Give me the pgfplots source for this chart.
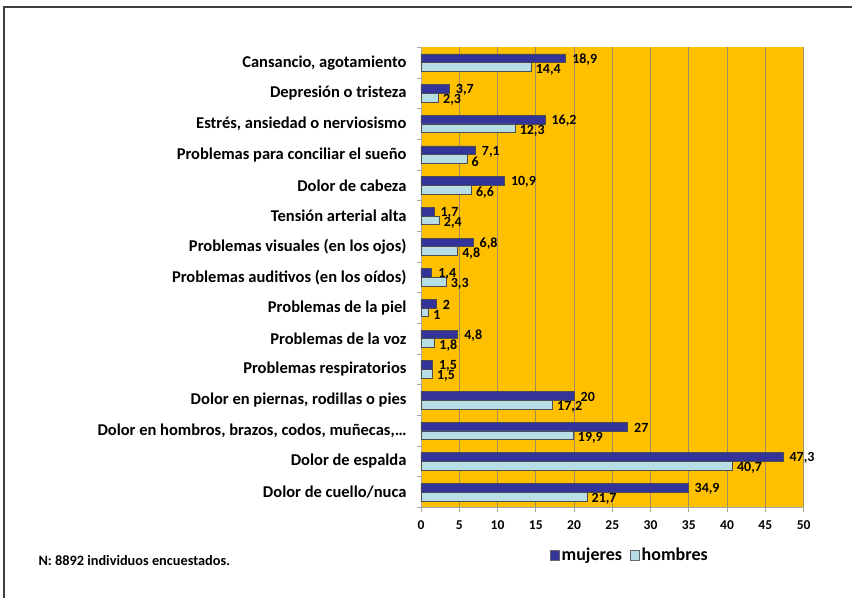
\documentclass[border=0pt]{standalone}
\usepackage{pgfplots}
\pgfplotsset{compat=1.18}
\usepackage{fontspec}
\setmainfont{Carlito}
\definecolor{plotorange}{RGB}{255,192,0}
\definecolor{darkbar}{RGB}{51,51,153}
\definecolor{lightbar}{RGB}{183,222,228}
\definecolor{gridgray}{RGB}{160,140,90}
\begin{document}
\begin{tikzpicture}
\useasboundingbox (0pt,0pt) rectangle (852pt,598pt);
\draw[black!75, line width=1.2pt] (4pt,0pt) -- (4pt,591pt) -- (852pt,591pt);
\begin{axis}[
  at={(421pt,90.5pt)}, anchor=south west,
  scale only axis, width=382.6pt, height=460.2pt,
  xbar, bar width=8.7pt,
  xmin=0, xmax=50, ymin=-0.5, ymax=14.5,
  xtick={0,5,...,50},
  axis background/.style={fill=plotorange},
  axis x line*=bottom, axis y line*=left,
  axis line style={draw=gray!70, line width=0.8pt},
  tick align=outside, major tick length=4pt,
  xtick pos=bottom, ytick pos=left,
  tick style={draw=gray!70, line width=0.8pt},
  xmajorgrids, major grid style={draw=gridgray, line width=0.8pt},
  ytick={-0.5,0.5,...,14.5}, yticklabels={},
  extra y ticks={0,1,...,14},
  extra y tick labels={Dolor de cuello/nuca,Dolor de espalda,{Dolor en hombros, brazos, codos, muñecas,\ldots},{Dolor en piernas, rodillas o pies},Problemas respiratorios,Problemas de la voz,Problemas de la piel,Problemas auditivos (en los oídos),Problemas visuales (en los ojos),Tensión arterial alta,Dolor de cabeza,Problemas para conciliar el sueño,{Estrés, ansiedad o nerviosismo},Depresión o tristeza,{Cansancio, agotamiento}},
  extra y tick style={major tick length=0pt, yticklabel style={font=\fontsize{16.5}{18}\selectfont\bfseries, xshift=-11pt}},
  /pgf/number format/assume math mode=true,
  xticklabel style={font=\fontsize{13.5}{15}\selectfont\bfseries, yshift=-6pt},
  /pgf/number format/.cd, use comma, fixed, precision=1, /pgfplots/.cd,
  nodes near coords,
  every node near coord/.append style={font=\fontsize{14}{15}\selectfont\bfseries, anchor=west, /pgf/number format/assume math mode=true},
  legend style={at={(0.546,-0.103)}, anchor=center, draw=none, fill=none, legend columns=2, font=\fontsize{18}{20}\selectfont\bfseries, /tikz/every even column/.append style={column sep=6pt}},
  legend image code/.code={\draw[#1, draw=black!60] (0pt,-5pt) rectangle (9pt,5pt);},
]
\addplot[fill=darkbar, draw=black!70, line width=0.6pt, bar shift=4.35pt,
  every node near coord/.append style={xshift=3pt, yshift=-1.2pt}] coordinates {
(34.9,0) (47.3,1) (27,2) (20,3) (1.5,4) (4.8,5) (2,6) (1.4,7) (6.8,8) (1.7,9) (10.9,10) (7.1,11) (16.2,12) (3.7,13) (18.9,14)};
\addplot[fill=lightbar, draw=black!70, line width=0.6pt, bar shift=-4.35pt,
  every node near coord/.append style={xshift=1pt, yshift=-2.5pt}] coordinates {
(21.7,0) (40.7,1) (19.9,2) (17.2,3) (1.5,4) (1.8,5) (1,6) (3.3,7) (4.8,8) (2.4,9) (6.6,10) (6,11) (12.3,12) (2.3,13) (14.4,14)};
\legend{mujeres,hombres}
\end{axis}
\node[anchor=west, font=\fontsize{14.3}{16}\selectfont\bfseries] at (35pt,37pt) {N: 8892 individuos encuestados.};
\end{tikzpicture}
\end{document}
